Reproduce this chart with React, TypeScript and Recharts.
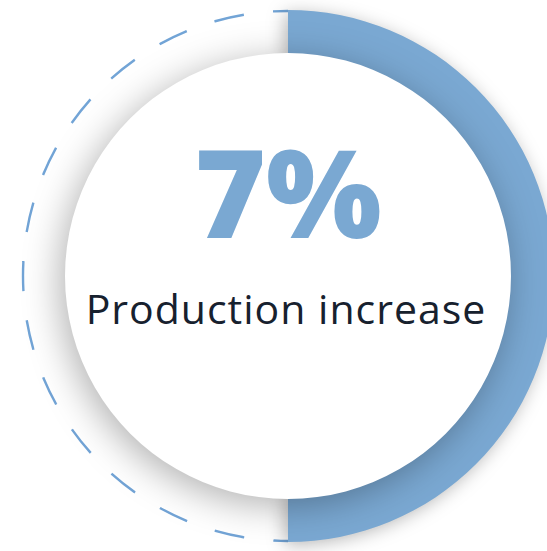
import React from 'react';
import { PieChart, Pie, Cell, Label } from 'recharts';

const segmentNames = ['Production increase', 'Remaining'];
const segmentValues = [50, 50];
const centerValues = [1];
const headline = '7%';
const caption = 'Production increase';

const BLUE = '#7aa8d2';
const DASH_BLUE = '#72a4d6';
const TEXT = '#17212e';

const segments = segmentNames.map((name, i) => ({ name, value: segmentValues[i] }));
const center = centerValues.map((value) => ({ name: 'center', value }));

const CX = 288;
const CY = 276;
const DASH_R = 265;
const PERIOD = (2 * Math.PI * DASH_R) / 28;
const DASH = 29.5;

const renderText = (props: any) => {
  const vb = props.viewBox || {};
  const cx = vb.cx ?? CX;
  const cy = vb.cy ?? CY;
  return (
    <g>
      <text
        x={cx}
        y={cy - 38}
        textAnchor="middle"
        fill={BLUE}
        style={{ fontFamily: '"Open Sans", sans-serif', fontWeight: 800, fontSize: 122 }}
      >
        {headline}
      </text>
      <text
        x={cx - 2}
        y={cy + 48}
        textAnchor="middle"
        fill={TEXT}
        style={{ fontFamily: '"Open Sans", sans-serif', fontWeight: 400, fontSize: 41, letterSpacing: 1 }}
      >
        {caption}
      </text>
    </g>
  );
};

export default function App() {
  return (
    <div style={{ position: 'absolute', left: 0, top: 0, width: 547, height: 551, overflow: 'hidden', background: '#fff' }}>
      <PieChart width={547} height={551} margin={{ top: 0, right: 0, bottom: 0, left: 0 }}>
        <Pie
          data={segments}
          dataKey="value"
          nameKey="name"
          cx={CX}
          cy={CY}
          innerRadius={DASH_R}
          outerRadius={DASH_R}
          startAngle={90}
          endAngle={-270}
          isAnimationActive={false}
        >
          <Cell fill="none" stroke="none" />
          <Cell
            fill="none"
            stroke={DASH_BLUE}
            strokeWidth={2.4}
            strokeDasharray={`${DASH} ${PERIOD - DASH}`}
            strokeDashoffset={DASH / 2}
          />
        </Pie>
        <Pie
          data={segments}
          dataKey="value"
          nameKey="name"
          cx={CX}
          cy={CY}
          innerRadius={215}
          outerRadius={266}
          startAngle={90}
          endAngle={-270}
          stroke="none"
          isAnimationActive={false}
        >
          <Cell fill={BLUE} style={{ filter: 'drop-shadow(-3px 3px 9px rgba(0,0,0,0.28))' }} />
          <Cell fill="transparent" />
        </Pie>
        <Pie
          data={center}
          dataKey="value"
          cx={CX}
          cy={CY}
          innerRadius={0}
          outerRadius={223}
          startAngle={90}
          endAngle={-270}
          stroke="none"
          isAnimationActive={false}
        >
          <Cell fill="#ffffff" style={{ filter: 'drop-shadow(-5px 7px 18px rgba(0,0,0,0.30))' }} />
          <Label position="center" content={renderText} />
        </Pie>
      </PieChart>
    </div>
  );
}
